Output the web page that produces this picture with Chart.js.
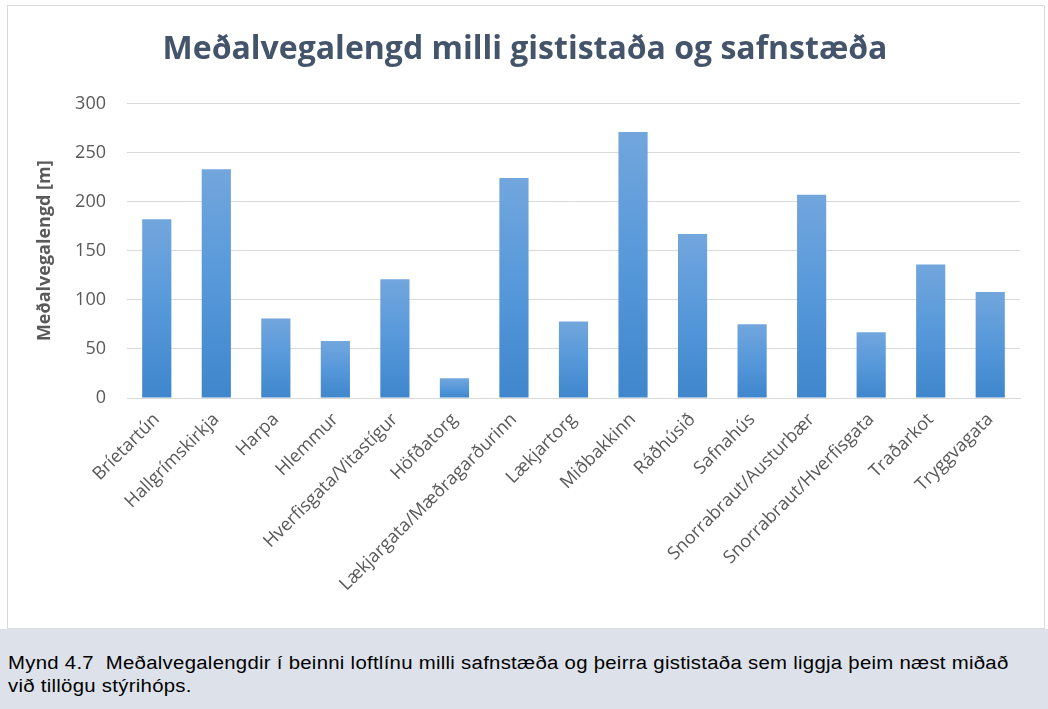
<!DOCTYPE html>
<html>
<head>
<meta charset="utf-8">
<script src="https://cdn.jsdelivr.net/npm/chart.js@4/dist/chart.umd.min.js"></script>
<style>
  html, body { margin: 0; padding: 0; background: #ffffff; width: 1048px; height: 709px; overflow: hidden; }
  #frame { position: absolute; left: 7px; top: 5px; width: 1036px; height: 622px; border: 1px solid #d9d9d9; background: #fff; }
  #caption { position: absolute; left: 0; top: 629px; width: 1048px; height: 80px; background: #dde2ea;
             font-family: "Liberation Sans", Arial, sans-serif; font-size: 18px; color: #000; }
  #caption div { position: absolute; left: 8px; top: 23px; line-height: 23px; white-space: nowrap;
                 letter-spacing: 0.25px; transform-origin: 0 0; transform: scaleX(1.13); }
</style>
</head>
<body>
<div id="frame"><canvas id="c" width="1036" height="622"></canvas></div>
<div id="caption"><div>Mynd 4.7&nbsp; Meðalvegalengdir í beinni loftlínu milli safnstæða og þeirra gististaða sem liggja þeim næst miðað<br>við tillögu stýrihóps.</div></div>
<script>
const categories = ["Bríetartún", "Hallgrímskirkja", "Harpa", "Hlemmur", "Hverfisgata/Vitastígur", "Höfðatorg",
  "Lækjargata/Mæðragarðurinn", "Lækjartorg", "Miðbakkinn", "Ráðhúsið", "Safnahús",
  "Snorrabraut/Austurbær", "Snorrabraut/Hverfisgata", "Traðarkot", "Tryggvagata"];
const distances = [182, 233, 81, 58, 121, 20, 224, 78, 271, 167, 75, 207, 67, 136, 108];
const yTicks = [0, 50, 100, 150, 200, 250, 300];

const chartTitle = "Meðalvegalengd milli gististaða og safnstæða";
const yTitle = "Meðalvegalengd [m]";

function barGradient(ctx) {
  const chart = ctx.chart;
  const y = chart.scales && chart.scales.y;
  if (!chart.chartArea || !y || ctx.raw === undefined) return "#5b9bd5";
  const top = y.getPixelForValue(ctx.raw);
  const base = y.getPixelForValue(0);
  const g = chart.ctx.createLinearGradient(0, top, 0, base);
  g.addColorStop(0, "#72a6dd");
  g.addColorStop(0.5, "#5698da");
  g.addColorStop(1, "#3f86cc");
  return g;
}

new Chart(document.getElementById("c"), {
  type: "bar",
  data: {
    labels: categories,
    datasets: [{
      data: distances,
      backgroundColor: barGradient,
      borderWidth: 0,
      categoryPercentage: 1.0,
      barPercentage: 0.49
    }]
  },
  options: {
    responsive: false,
    animation: false,
    layout: { padding: { left: 22, right: 24, top: 0, bottom: 0 } },
    plugins: {
      legend: { display: false },
      tooltip: { enabled: false },
      title: {
        display: true,
        text: chartTitle,
        color: "#44546a",
        font: { family: "Open Sans", size: 32, weight: "bold", lineHeight: 1.2 },
        padding: { top: 25, bottom: 34 }
      }
    },
    scales: {
      x: {
        afterFit: (s) => { s.height = 230; },
        grid: { display: false, drawTicks: false },
        border: { display: true, color: "#d9d9d9", width: 1 },
        ticks: {
          color: "#595959",
          font: { family: "Open Sans", size: 18 },
          minRotation: 45,
          maxRotation: 45,
          autoSkip: false,
          padding: 11
        }
      },
      y: {
        min: 0,
        max: 300,
        afterBuildTicks: (s) => { s.ticks = yTicks.map(v => ({ value: v })); },
        afterFit: (s) => { s.width = 97; },
        grid: { color: "#d9d9d9", lineWidth: 1, drawTicks: false },
        border: { display: false },
        ticks: {
          color: "#595959",
          font: { family: "Open Sans", size: 18 },
          padding: 21
        },
        title: {
          display: true,
          text: yTitle,
          color: "#595959",
          font: { family: "Open Sans", size: 18, weight: "bold" },
          padding: { top: 4, bottom: 4 }
        }
      }
    }
  }
});
</script>
</body>
</html>
